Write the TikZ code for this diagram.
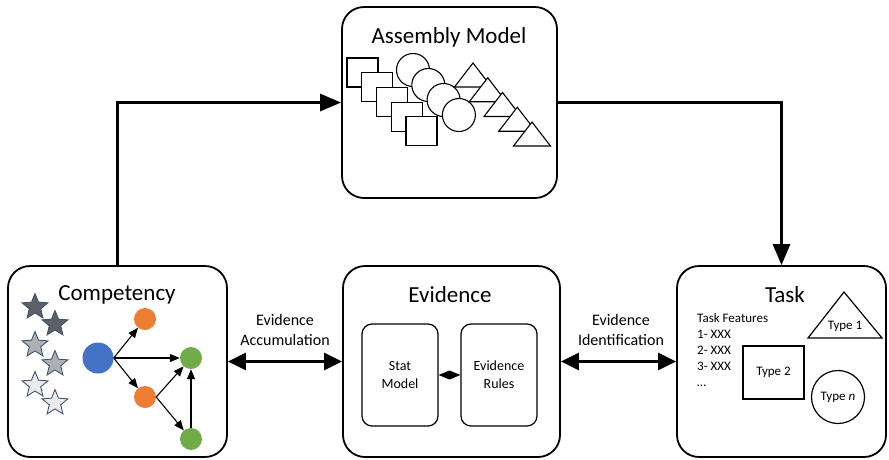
\documentclass[tikz,border=0pt]{standalone}
\usepackage{fontspec}
\setmainfont{Carlito}
\usetikzlibrary{shapes.geometric,arrows.meta,calc}
\definecolor{cblue}{HTML}{4472C4}
\definecolor{corange}{HTML}{ED7D31}
\definecolor{cgreen}{HTML}{70AD47}
\definecolor{stardark}{HTML}{5B5F66}
\definecolor{starmid}{HTML}{ADB0B5}
\definecolor{starlight}{HTML}{E9EAEC}
\definecolor{starline}{HTML}{44546A}
\tikzset{
  bigbox/.style={draw, line width=1.8pt, rounded corners=22pt, fill=white},
  innerbox/.style={draw, line width=1.2pt, rounded corners=10pt, minimum width=76pt, minimum height=102pt, align=center, font=\fontsize{14}{18}\selectfont},
  title/.style={font=\fontsize{23}{24}\selectfont},
  lab/.style={align=center, font=\fontsize{16}{20}\selectfont},
  conn/.style={line width=3pt, -{Triangle[length=21pt,width=17pt]}},
  biconn/.style={line width=3pt, {Triangle[length=18pt,width=17pt]}-{Triangle[length=18pt,width=17pt]}},
  garrow/.style={line width=1.1pt, -{Triangle[length=10pt,width=8pt]}},
  gnode/.style={circle, inner sep=0pt, minimum size=22pt},
  starshape/.style={star, star points=5, star point ratio=2.25, minimum size=27pt, inner sep=0pt, draw=starline, line width=0.9pt},
  sq/.style={draw, line width=1.1pt, fill=white, minimum width=31pt, minimum height=29pt, inner sep=0pt},
  circ/.style={draw, line width=1.1pt, fill=white, circle, minimum size=33pt, inner sep=0pt},
  small/.style={font=\fontsize{13}{16}\selectfont},
}
\begin{document}
\begin{tikzpicture}[x=1pt,y=-1pt]
\useasboundingbox (0,0) rectangle (889,459);

% main boxes
\node[bigbox, minimum width=215pt, minimum height=191pt] (asm) at (449.5,102.5) {};
\node[bigbox, minimum width=219pt, minimum height=191pt] (comp) at (117.5,361.5) {};
\node[bigbox, minimum width=217pt, minimum height=191pt] (evid) at (451.5,361.5) {};
\node[bigbox, minimum width=209pt, minimum height=191pt] (task) at (781.5,361.5) {};

% titles
\node[title] (asmt) at (449,37) {Assembly Model};
\node[title] (compt) at (117,295) {Competency};
\node[title] (evidt) at (450,295) {Evidence};
\node[title] (taskt) at (785,295) {Task};

% assembly shapes
\foreach \i in {0,...,4}{
  \node[sq] (sq\i) at ({362.5+14.75*\i},{72.5+14.7*\i}) {};
}
\foreach \i in {0,...,3}{
  \node[circ] (ci\i) at ({413+15.3*\i},{70+15*\i}) {};
}
\foreach \i in {0,...,4}{
  \draw[line width=1.1pt, fill=white] ({473+14.75*\i},{63+14.75*\i}) -- ({491.5+14.75*\i},{87+14.75*\i}) -- ({454.5+14.75*\i},{87+14.75*\i}) -- cycle;
}

% connectors between main boxes
\draw[conn] (comp.north) |- (asm.west);
\draw[conn] (asm.east) -| (task.north);
\draw[biconn] (comp.east) -- (evid.west);
\draw[biconn] (evid.east) -- (task.west);

\node[lab] (ea) at (285,330) {Evidence\\Accumulation};
\node[lab] (ei) at (621,330) {Evidence\\Identification};

% evidence inner
\node[innerbox] (stat) at (400,375) {Stat\\Model};
\node[innerbox] (rules) at (499,375) {Evidence\\Rules};
\fill (stat.east) -- ($(stat.east)!0.5!(rules.west)+(0,-4.5)$) -- (rules.west) -- ($(stat.east)!0.5!(rules.west)+(0,4.5)$) -- cycle;

% competency stars
\node[starshape, fill=stardark] (s1) at (35,307) {};
\node[starshape, fill=stardark] (s2) at (55,324) {};
\node[starshape, fill=starmid] (s3) at (35,345) {};
\node[starshape, fill=starmid] (s4) at (55,364) {};
\node[starshape, fill=starlight] (s5) at (35,385) {};
\node[starshape, fill=starlight] (s6) at (55,403) {};

% competency graph
\node[gnode, fill=cblue, minimum size=31pt] (b) at (98,358) {};
\node[gnode, fill=corange] (o1) at (145,319) {};
\node[gnode, fill=corange] (o2) at (145,397) {};
\node[gnode, fill=cgreen] (g1) at (191,358) {};
\node[gnode, fill=cgreen] (g2) at (191,439) {};
\draw[garrow] (b.east) -- (o1);
\draw[garrow] (b.east) -- (g1);
\draw[garrow] (b.east) -- (o2);
\draw[garrow] (o2.east) -- (g1);
\draw[garrow] (o2.east) -- (g2);
\draw[garrow] (g2) -- (g1);

% task inner
\node[small, align=left, anchor=north west, inner sep=0pt] (feat) at (697,313) {Task Features\\1- XXX\\2- XXX\\3- XXX\\…};
\draw[line width=1.2pt] (844,292) -- (882,338) -- (808,338) -- cycle;
\node[small] (t1) at (845,326) {Type 1};
\node[small, draw, line width=1.2pt, minimum width=61pt, minimum height=53pt] (t2) at (773.5,372.5) {Type 2};
\node[small, draw, circle, line width=1.2pt, minimum size=53pt, inner sep=0pt] (tn) at (838,397) {Type \textit{n}};
\end{tikzpicture}
\end{document}
